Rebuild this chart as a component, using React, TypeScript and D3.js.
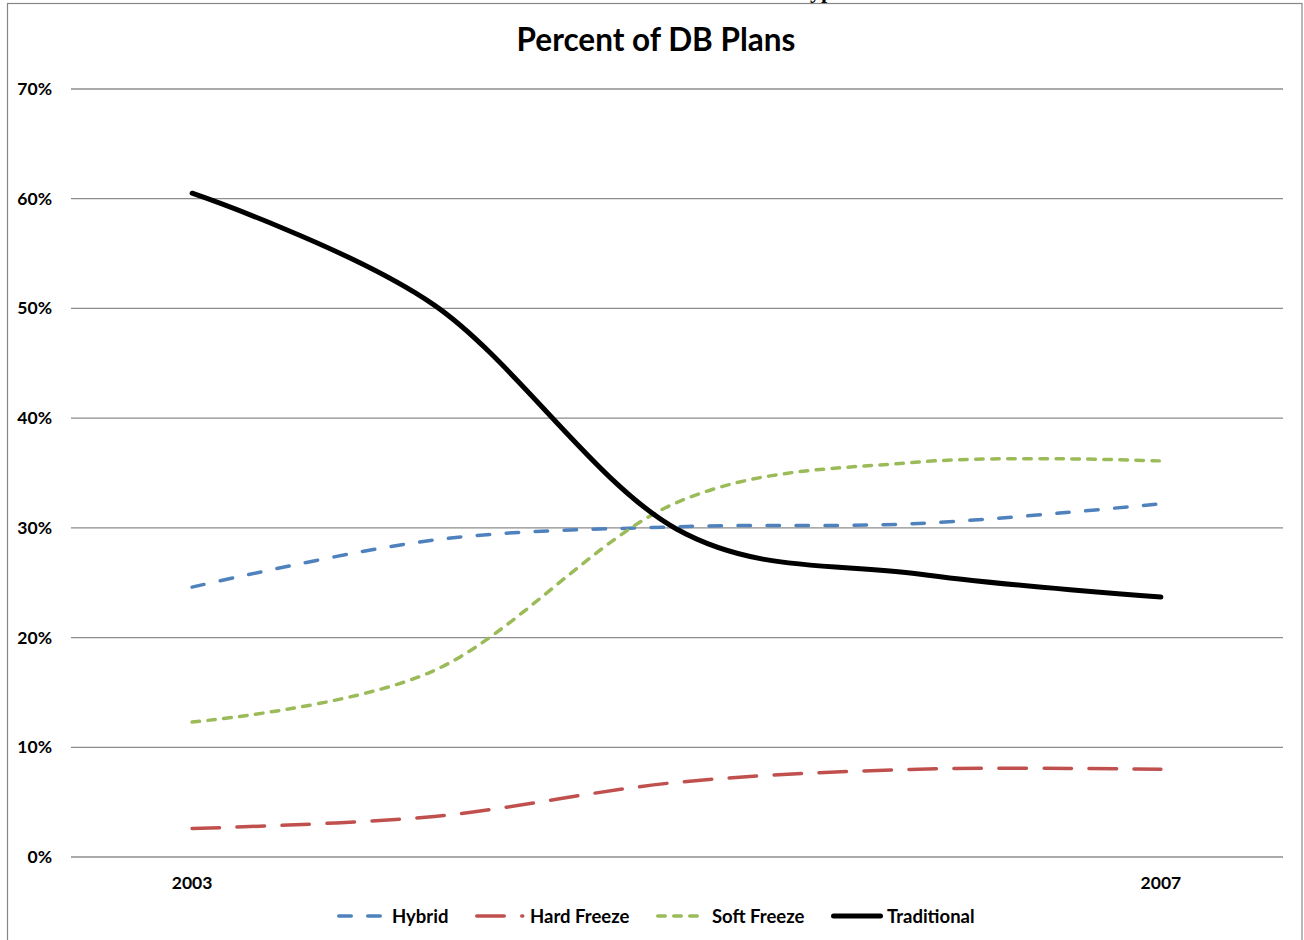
import React from "react";
import * as d3 from "d3";

// Plan-type shares of defined benefit plans, 2003–2007 (percent)
const years = ["2003", "2004", "2005", "2006", "2007"];
const tickLabels = ["2003", "", "", "", "2007"];
const hybrid = [24.6, 28.9, 30.1, 30.4, 32.2];
const hardFreeze = [2.6, 3.7, 6.8, 8.0, 8.0];
const softFreeze = [12.3, 17.0, 32.3, 36.0, 36.1];
const traditional = [60.5, 50.3, 29.9, 25.8, 23.7];
const yTicks = [0, 10, 20, 30, 40, 50, 60, 70];

const seriesNames = ["Hybrid", "Hard Freeze", "Soft Freeze", "Traditional"];

const W = 1304;
const H = 940;
const FONT = "Lato, 'Open Sans', sans-serif";

type Style = { color: string; width: number; dash: string | null; sampleX: number; textX: number; sampleLen: number };

const styles: Record<string, Style> = {
  Hybrid: { color: "#4F81BD", width: 3.5, dash: "12.5,16.5", sampleX: 337, textX: 392, sampleLen: 45 },
  "Hard Freeze": { color: "#C0504D", width: 3.5, dash: "27.5,17.5", sampleX: 475, textX: 530, sampleLen: 49.5 },
  "Soft Freeze": { color: "#9BBB59", width: 3.5, dash: "7.5,8.5", sampleX: 656, textX: 712, sampleLen: 44 },
  Traditional: { color: "#000000", width: 5, dash: null, sampleX: 831, textX: 887, sampleLen: 52 },
};

export default function App() {
  const x = d3.scalePoint<string>().domain(years).range([71, 1282]).padding(0.5);
  const y = d3.scaleLinear().domain([0, 70]).range([857, 89]);

  const line = d3
    .line<number>()
    .x((_, i) => x(years[i]) as number)
    .y((d) => y(d))
    .curve(d3.curveCardinal.tension(0));

  const data: Record<string, number[]> = {
    Hybrid: hybrid,
    "Hard Freeze": hardFreeze,
    "Soft Freeze": softFreeze,
    Traditional: traditional,
  };

  return (
    <svg
      width={W}
      height={H}
      style={{ position: "absolute", left: 0, top: 0, background: "#fff" }}
      fontFamily={FONT}
    >
      {/* heading of the page above the chart, clipped by the frame */}
      <text x={797} y={-2} fontFamily="'Liberation Serif', serif" fontWeight="bold" fontSize={22} fill="#000">
        Types
      </text>

      {/* chart frame */}
      <rect x={7.5} y={3.5} width={1294.5} height={H + 20} fill="none" stroke="#878787" strokeWidth={1.2} />

      {/* title */}
      <text x={656} y={51} textAnchor="middle" fontWeight="bold" fontSize={31.5} fill="#000">
        Percent of DB Plans
      </text>

      {/* gridlines and y labels */}
      {yTicks.map((t) => (
        <g key={t}>
          <line x1={71} x2={1283} y1={y(t)} y2={y(t)} stroke="#8c8c8c" strokeWidth={1.3} />
          <text x={52} y={y(t) + 6} textAnchor="end" fontWeight="bold" fontSize={17.5} fill="#000">
            {t}%
          </text>
        </g>
      ))}

      {/* x labels */}
      {years.map((yr, i) =>
        tickLabels[i] ? (
          <text key={yr} x={x(yr) as number} y={889} textAnchor="middle" fontWeight="bold" fontSize={17.5} fill="#000">
            {tickLabels[i]}
          </text>
        ) : null
      )}

      {/* series */}
      {seriesNames.map((name) => {
        const s = styles[name];
        return (
          <path
            key={name}
            d={line(data[name]) || ""}
            fill="none"
            stroke={s.color}
            strokeWidth={s.width}
            strokeDasharray={s.dash || undefined}
            strokeLinecap="round"
            strokeLinejoin="round"
          />
        );
      })}

      {/* legend */}
      {seriesNames.map((name) => {
        const s = styles[name];
        const ly = 916;
        return (
          <g key={name}>
            <line
              x1={s.sampleX + s.width / 2}
              x2={s.sampleX + s.sampleLen - s.width / 2}
              y1={ly}
              y2={ly}
              stroke={s.color}
              strokeWidth={s.width}
              strokeDasharray={s.dash || undefined}
              strokeLinecap="round"
            />
            <text x={s.textX} y={ly + 6.5} fontWeight="bold" fontSize={18.5} fill="#000">
              {name}
            </text>
          </g>
        );
      })}
    </svg>
  );
}
